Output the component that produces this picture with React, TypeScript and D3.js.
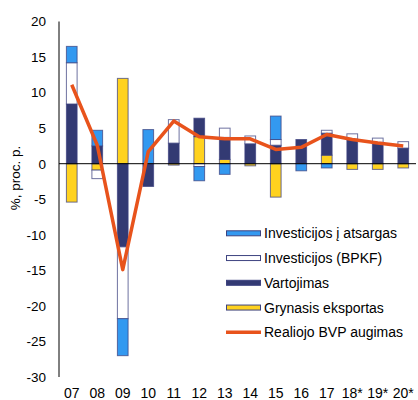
import React from "react";
import * as d3 from "d3";

const categories = ["07", "08", "09", "10", "11", "12", "13", "14", "15", "16", "17", "18*", "19*", "20*"];
const netExports = [-5.4, -0.9, 12.0, 0, -0.2, 3.8, 0.6, -0.3, -4.7, 0, 1.2, -0.8, -0.8, -0.6];
const consumption = [8.4, 2.5, -11.7, -3.2, 2.9, 2.6, 3.1, 2.8, 2.6, 3.4, 3.1, 3.45, 3.0, 2.2];
const fixedInvestment = [5.8, -1.2, -10.1, 0, 3.3, -0.4, 1.3, 1.1, 0.8, 0, 0.4, 0.75, 0.6, 0.9];
const inventories = [2.3, 2.2, -5.2, 4.8, 0, -2.0, -1.5, 0, 3.3, -1.0, -0.6, 0, 0, 0];
const gdpGrowth = [11.1, 2.6, -14.9, 1.7, 6.0, 3.8, 3.5, 3.5, 2.0, 2.3, 4.1, 3.4, 2.9, 2.5];
const yTicks = [20, 15, 10, 5, 0, -5, -10, -15, -20, -25, -30];

const seriesKeys = ["nx", "c", "bpkf", "inv"];
const seriesFill: Record<string, string> = {
  nx: "#FFD21F",
  c: "#333A73",
  bpkf: "#FFFFFF",
  inv: "#3399F0",
};
const legendItems = [
  { key: "inv", label: "Investicijos į atsargas" },
  { key: "bpkf", label: "Investicijos (BPKF)" },
  { key: "c", label: "Vartojimas" },
  { key: "nx", label: "Grynasis eksportas" },
  { key: "line", label: "Realiojo BVP augimas" },
];

const FONT = "'Liberation Sans', Arial, sans-serif";
const LINE_COLOR = "#E8531C";

export default function App() {
  const width = 418;
  const height = 400;
  const left = 59;
  const right = 416;
  const top = 21.5;
  const bottom = 377;

  const rows = categories.map((cat, i) => ({
    cat,
    nx: netExports[i],
    c: consumption[i],
    bpkf: fixedInvestment[i],
    inv: inventories[i],
  }));

  const x = d3.scaleBand<string>().domain(categories).range([left, right]).paddingInner(0.58).paddingOuter(0.29);
  const y = d3.scaleLinear().domain([-30, 20]).range([bottom, top]);

  const stack = d3.stack<any>().keys(seriesKeys).offset(d3.stackOffsetDiverging);
  const stacked = stack(rows);

  const line = d3
    .line<number>()
    .x((_, i) => (x(categories[i]) as number) + x.bandwidth() / 2)
    .y((d) => y(d));

  return (
    <div style={{ position: "absolute", left: 0, top: 0 }}>
      <svg width={width} height={height} style={{ display: "block", background: "#fff" }}>
        {/* y tick labels */}
        {yTicks.map((t) => (
          <text
            key={t}
            x={46}
            y={y(t)}
            dy="0.36em"
            textAnchor="end"
            fontFamily={FONT}
            fontSize={13.5}
            fill="#000"
          >
            {t}
          </text>
        ))}
        <text
          transform={`translate(20,${178}) rotate(-90)`}
          textAnchor="middle"
          fontFamily={FONT}
          fontSize={13.5}
          fill="#000"
        >
          %, proc. p.
        </text>

        {/* bars */}
        {stacked.map((s) => (
          <g key={s.key}>
            {s.map((d, i) => {
              const y0 = y(d[0]);
              const y1 = y(d[1]);
              const h = Math.abs(y0 - y1);
              if (h < 0.01) return null;
              return (
                <rect
                  key={i}
                  x={x(categories[i]) as number}
                  y={Math.min(y0, y1)}
                  width={x.bandwidth()}
                  height={h}
                  fill={seriesFill[s.key]}
                  stroke="#3D4380"
                  strokeOpacity={0.75}
                  strokeWidth={1}
                />
              );
            })}
          </g>
        ))}

        {/* axes */}
        <line x1={left} x2={left} y1={top} y2={bottom} stroke="#000" strokeWidth={1} />
        <line x1={left} x2={right} y1={y(0)} y2={y(0)} stroke="#000" strokeWidth={1} />

        {/* GDP line */}
        <path
          d={line(gdpGrowth) || ""}
          fill="none"
          stroke={LINE_COLOR}
          strokeWidth={3.5}
          strokeLinejoin="round"
          strokeLinecap="butt"
        />

        {/* x labels */}
        {categories.map((c) => (
          <text
            key={c}
            x={(x(c) as number) + x.bandwidth() / 2}
            y={397.5}
            textAnchor="middle"
            fontFamily={FONT}
            fontSize={14}
            fill="#000"
          >
            {c}
          </text>
        ))}

        {/* legend */}
        {legendItems.map((it, i) => {
          const cy = 233.3 + i * 24.75;
          return (
            <g key={it.key}>
              {it.key === "line" ? (
                <line x1={226} x2={261} y1={cy} y2={cy} stroke={LINE_COLOR} strokeWidth={3.5} />
              ) : (
                <rect
                  x={226.5}
                  y={cy - 2.5}
                  width={34}
                  height={5}
                  fill={seriesFill[it.key]}
                  stroke="#3D4380"
                  strokeWidth={1}
                />
              )}
              <text x={264} y={cy} dy="0.36em" fontFamily={FONT} fontSize={14} fill="#000">
                {it.label}
              </text>
            </g>
          );
        })}
      </svg>
    </div>
  );
}
